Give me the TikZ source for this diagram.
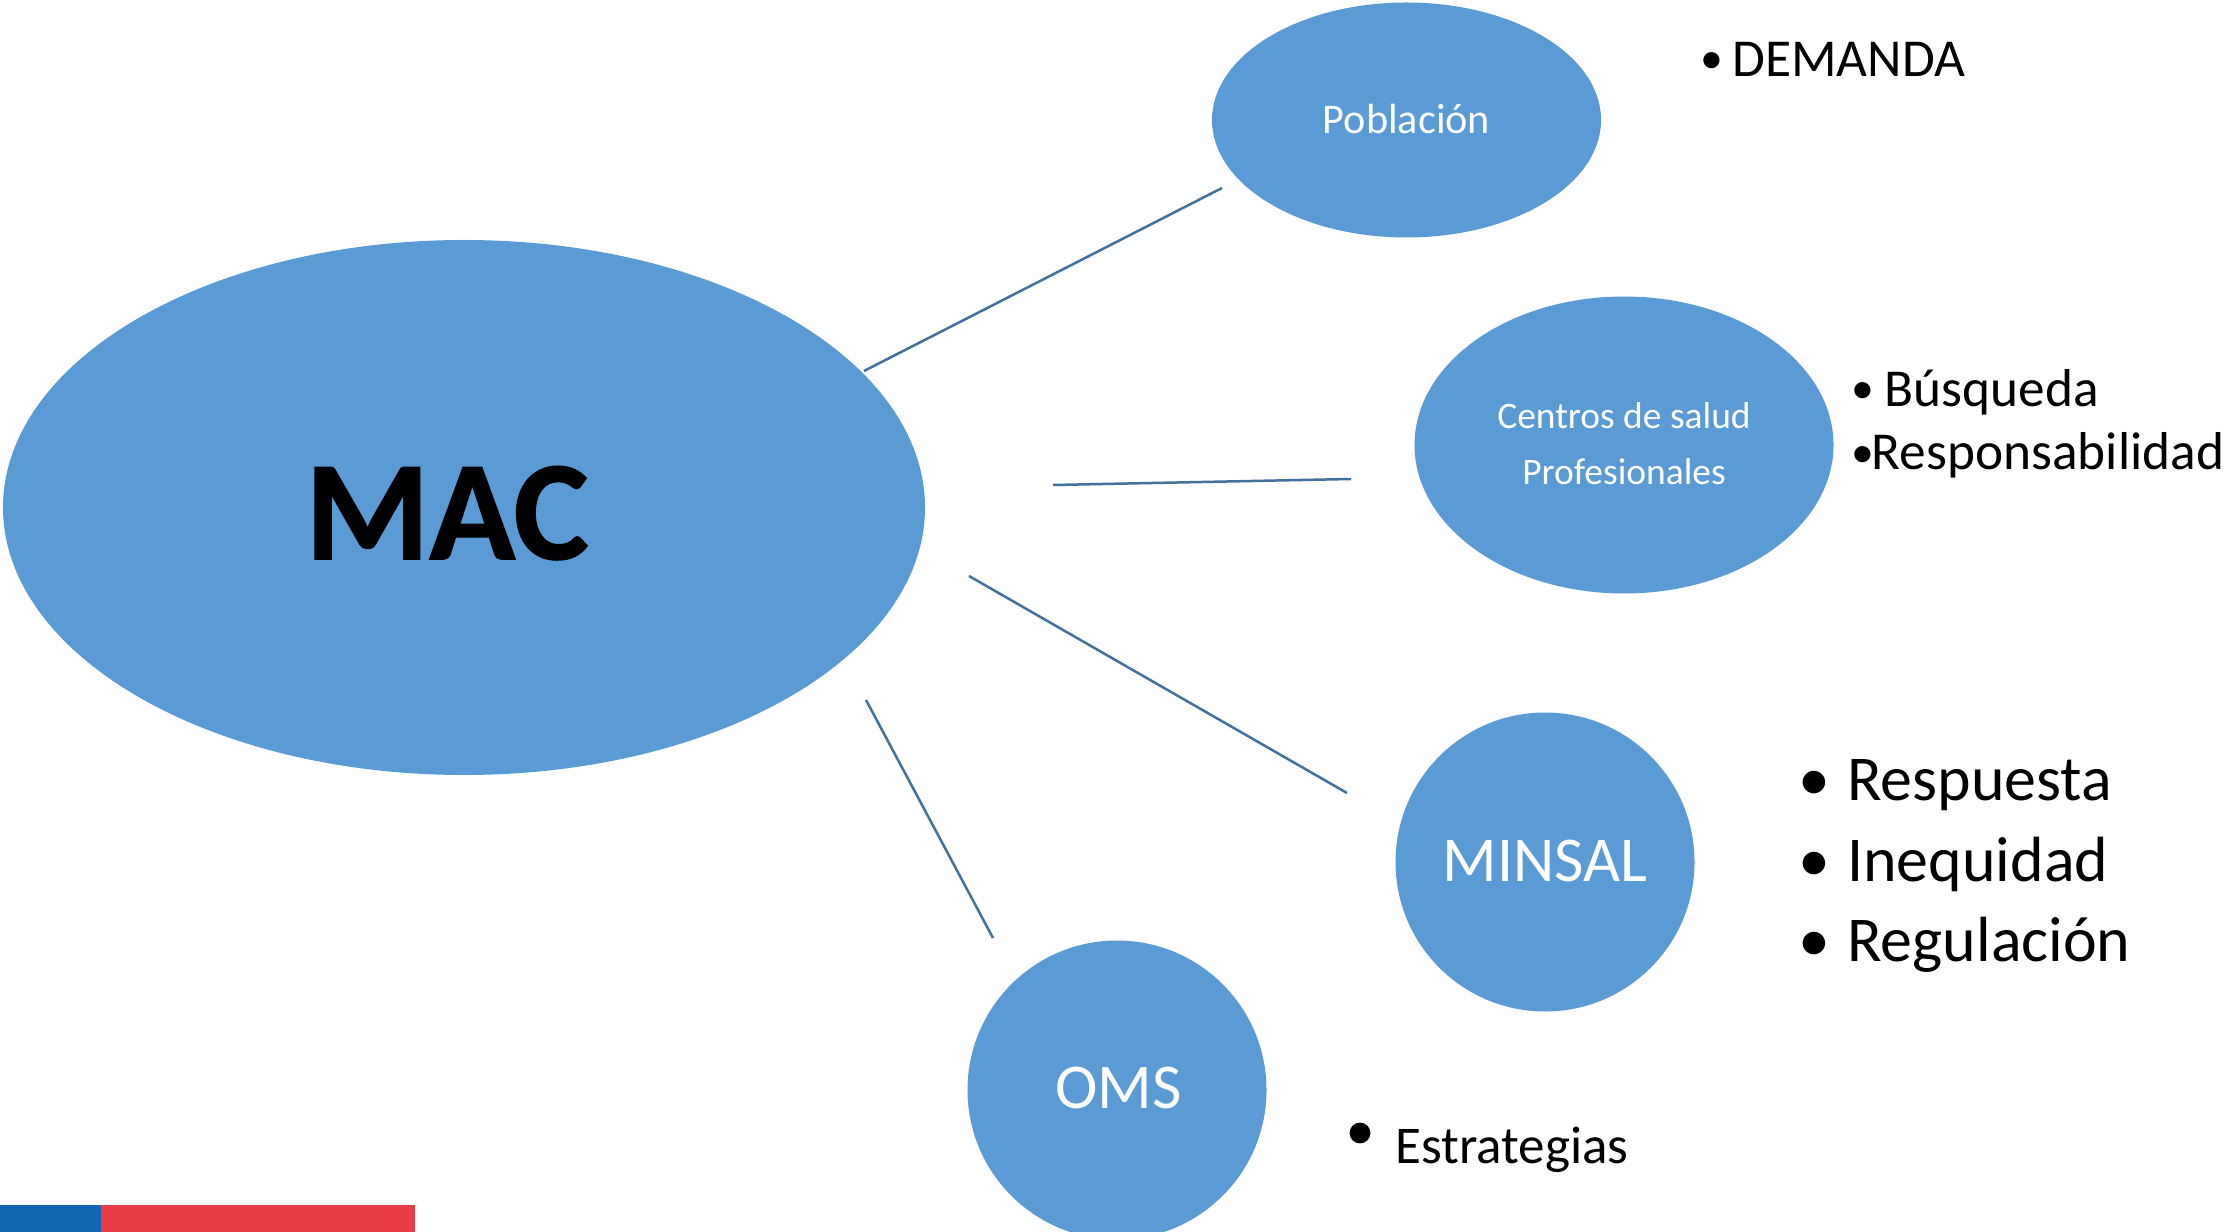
\documentclass[tikz,border=0pt]{standalone}
\usepackage{fontspec}
\setmainfont{Carlito}
\usetikzlibrary{shapes.geometric}
\definecolor{mainblue}{HTML}{5B9BD5}
\definecolor{linkblue}{HTML}{41719C}
\definecolor{barblue}{HTML}{1268B0}
\definecolor{barred}{HTML}{EA3C47}
\newcommand{\pxfont}[1]{\fontsize{#1}{#1}\selectfont}
\newcommand{\smallblt}{\raisebox{1pt}{\pxfont{16.5}•}}
\tikzset{x=0.36pt,y=-0.36pt,
  bubble/.style={ellipse,fill=mainblue,draw=none,inner sep=0pt,outer sep=0pt,text=white,align=center},
  link/.style={draw=linkblue,line width=0.9pt},
  item/.style={anchor=base west,inner sep=0pt,text=black},
  dot/.style={circle,fill=black,inner sep=0pt,minimum size=#1}}
\begin{document}
\begin{tikzpicture}
\useasboundingbox (0,0) rectangle (2228,1232);
\fill[white] (0,0) rectangle (2228,1232);
\fill[barblue] (0,1205) rectangle (101,1232);
\fill[barred] (101,1205) rectangle (415,1232);
\node[bubble,minimum width=922*0.36pt,minimum height=535*0.36pt] (mac) at (464,507.5) {\rule{0pt}{37.5pt}\pxfont{51}\bfseries\addfontfeature{FakeBold=1}\textcolor{black}{MAC}\hspace{12.2pt}};
\node[bubble,minimum width=389*0.36pt,minimum height=235*0.36pt] (pob) at (1406.5,120) {\raisebox{1pt}{\pxfont{15.2}Población}};
\node[bubble,minimum width=419*0.36pt,minimum height=297*0.36pt] (cen) at (1624,445) {\pxfont{13.5}\begin{tabular}{@{}c@{}}\rule{0pt}{12.25pt}Centros de salud\\[6.7pt]Profesionales\end{tabular}};
\node[bubble,minimum width=299*0.36pt,minimum height=299*0.36pt] (min) at (1545,862) {\raisebox{1pt}{\pxfont{23}MINSAL}};
\node[bubble,minimum width=299*0.36pt,minimum height=299*0.36pt] (oms) at (1117,1090) {\raisebox{1.5pt}{\pxfont{23}\hspace{1pt}OMS}};
\coordinate (a1) at (864,371); \coordinate (a2) at (1222,188);
\coordinate (b1) at (1053,485); \coordinate (b2) at (1351,479);
\coordinate (c1) at (969,576); \coordinate (c2) at (1347,793);
\coordinate (d1) at (866,700); \coordinate (d2) at (993,938);
\draw[link] (a1) -- (a2);
\draw[link] (b1) -- (b2);
\draw[link] (c1) -- (c2);
\draw[link] (d1) -- (d2);
\node[item] (t1) at (1699.6,76.5) {\pxfont{19.2}\smallblt\hspace{3.4pt}DEMANDA};
\node[item] (t2) at (1851,406.5) {\pxfont{19.2}\smallblt\hspace{3.8pt}Búsqueda};
\node[item] (t3) at (1851,470) {\pxfont{19.2}\smallblt\hspace{-0.9pt}Responsabilidad};
\node[item] (t4) at (1798,800.5) {\pxfont{23}•\hspace{6.1pt}Respuesta};
\node[item] (t5) at (1798,881) {\pxfont{23}•\hspace{6.1pt}Inequidad};
\node[item] (t6) at (1798,961.5) {\pxfont{23}•\hspace{6.1pt}Regulación};
\node[dot=7.5pt] (d7) at (1360,1133) {};
\node[item] (t7) at (1395,1163) {\pxfont{19.1}Estrategias};
\end{tikzpicture}
\end{document}
